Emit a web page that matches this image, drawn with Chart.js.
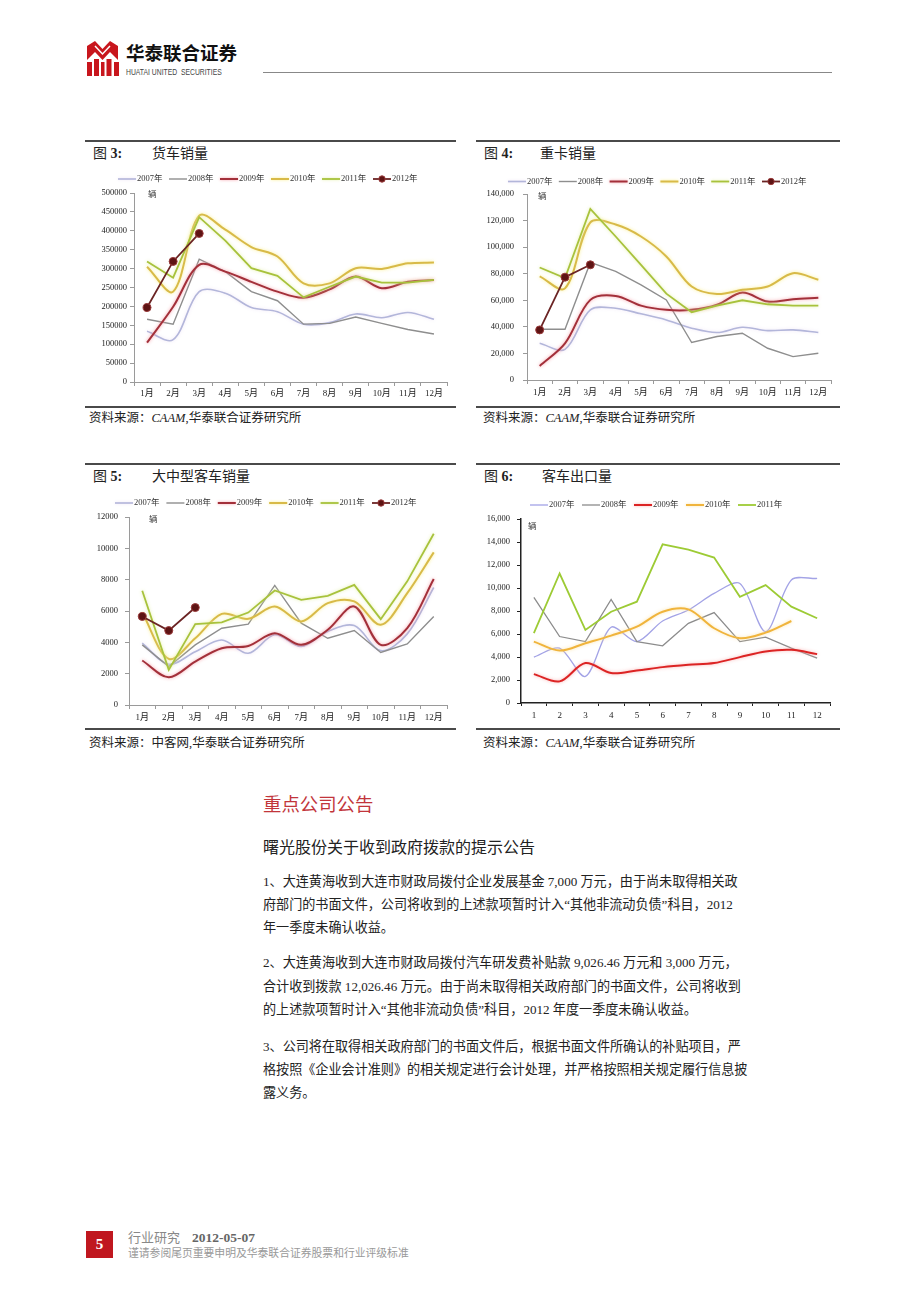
<!DOCTYPE html>
<html><head><meta charset="utf-8">
<script src="https://cdn.jsdelivr.net/npm/chart.js@4.4.1/dist/chart.umd.min.js"></script>
<style>
html,body{margin:0;padding:0;background:#fff;}
#page{position:relative;width:920px;height:1302px;overflow:hidden;background:#fff;font-family:'Liberation Serif','Noto Sans CJK SC',serif;color:#222;}
.abs{position:absolute;white-space:nowrap;}
canvas{position:absolute;}
.rule{position:absolute;background:#4a4a4a;}
.ttl{position:absolute;font-size:14px;line-height:16px;white-space:nowrap;color:#222;}
.src{position:absolute;font-size:12.5px;line-height:14px;white-space:nowrap;color:#222;}
.unit{position:absolute;font-size:8.5px;line-height:10px;font-family:'Noto Sans CJK SC';color:#333;}
.p{position:absolute;left:263px;font-size:13.1px;line-height:16px;white-space:nowrap;color:#222;}
</style></head>
<body><div id="page">

<!-- header -->
<svg class="abs" style="left:86px;top:40px" width="33" height="37" viewBox="0 0 33 37">
 <path d="M1 6 L9 1 L16.5 9 L24 1 L32 6 L32 20 L24 12 L16.5 20 L9 12 L1 20 Z" fill="#c8161d"/>
 <path d="M9 6 L16.5 14 L24 6" stroke="#fff" stroke-width="1.5" fill="none"/>
 <rect x="1" y="22" width="5" height="14" fill="#c8161d"/>
 <rect x="8" y="19" width="5" height="17" fill="#c8161d"/>
 <rect x="15" y="22" width="3.5" height="14" fill="#c8161d"/>
 <rect x="20.5" y="19" width="5" height="17" fill="#c8161d"/>
 <rect x="28" y="22" width="5" height="14" fill="#c8161d"/>
</svg>
<div class="abs" style="left:126px;top:42px;font-family:'Noto Sans CJK SC';font-weight:700;font-size:18.5px;line-height:21px;color:#111;">华泰联合证券</div>
<div class="abs" style="left:126px;top:67px;font-family:'Liberation Sans Narrow','Liberation Sans';font-size:8.5px;line-height:10px;color:#444;transform:scaleX(0.8);transform-origin:0 0;">HUATAI UNITED&nbsp; SECURITIES</div>
<div class="abs" style="left:263px;top:72px;width:569px;height:1px;background:#888;"></div>

<!-- Figure 3 -->
<div class="rule" style="left:85px;top:140px;width:371px;height:2px;"></div>
<div class="ttl" style="left:93px;top:146px;">图 <b>3:</b></div>
<div class="ttl" style="left:152px;top:146px;">货车销量</div>
<canvas id="c3" width="375" height="240" style="left:85px;top:165px;width:375px;height:240px;"></canvas>
<div class="unit" style="left:148px;top:188px;">辆</div>
<div class="rule" style="left:85px;top:406px;width:371px;height:2px;"></div>
<div class="src" style="left:89px;top:411px;">资料来源：<i>CAAM</i>,华泰联合证券研究所</div>

<!-- Figure 4 -->
<div class="rule" style="left:476px;top:140px;width:364px;height:2px;"></div>
<div class="ttl" style="left:484px;top:146px;">图 <b>4:</b></div>
<div class="ttl" style="left:540px;top:146px;">重卡销量</div>
<canvas id="c4" width="365" height="240" style="left:475px;top:165px;width:365px;height:240px;"></canvas>
<div class="unit" style="left:538px;top:190px;">辆</div>
<div class="rule" style="left:476px;top:406px;width:364px;height:2px;"></div>
<div class="src" style="left:483px;top:411px;">资料来源：<i>CAAM</i>,华泰联合证券研究所</div>

<!-- Figure 5 -->
<div class="rule" style="left:85px;top:463px;width:371px;height:2px;"></div>
<div class="ttl" style="left:93px;top:469px;">图 <b>5:</b></div>
<div class="ttl" style="left:152px;top:469px;">大中型客车销量</div>
<canvas id="c5" width="375" height="238" style="left:85px;top:490px;width:375px;height:238px;"></canvas>
<div class="unit" style="left:149px;top:513px;">辆</div>
<div class="rule" style="left:85px;top:728px;width:371px;height:2px;"></div>
<div class="src" style="left:89px;top:736px;">资料来源：中客网,华泰联合证券研究所</div>

<!-- Figure 6 -->
<div class="rule" style="left:476px;top:463px;width:364px;height:2px;"></div>
<div class="ttl" style="left:484px;top:469px;">图 <b>6:</b></div>
<div class="ttl" style="left:542px;top:469px;">客车出口量</div>
<canvas id="c6" width="365" height="238" style="left:475px;top:490px;width:365px;height:238px;"></canvas>
<div class="unit" style="left:528px;top:520px;">辆</div>
<div class="rule" style="left:476px;top:728px;width:364px;height:2px;"></div>
<div class="src" style="left:483px;top:736px;">资料来源：<i>CAAM</i>,华泰联合证券研究所</div>

<!-- text -->
<div class="abs" style="left:263px;top:792px;font-size:18.4px;line-height:22px;color:#c2353b;font-family:'Noto Sans CJK SC';">重点公司公告</div>
<div class="abs" style="left:263px;top:836px;font-size:16px;line-height:20px;color:#222;font-family:'Noto Sans CJK SC';">曙光股份关于收到政府拨款的提示公告</div>

<div class="p" style="top:874px;">1、大连黄海收到大连市财政局拨付企业发展基金 7,000 万元，由于尚未取得相关政</div>
<div class="p" style="top:897px;">府部门的书面文件，公司将收到的上述款项暂时计入“其他非流动负债”科目，2012</div>
<div class="p" style="top:920px;">年一季度未确认收益。</div>

<div class="p" style="top:955px;">2、大连黄海收到大连市财政局拨付汽车研发费补贴款 9,026.46 万元和 3,000 万元，</div>
<div class="p" style="top:979px;">合计收到拨款 12,026.46 万元。由于尚未取得相关政府部门的书面文件，公司将收到</div>
<div class="p" style="top:1002px;">的上述款项暂时计入“其他非流动负债”科目，2012 年度一季度未确认收益。</div>

<div class="p" style="top:1039px;">3、公司将在取得相关政府部门的书面文件后，根据书面文件所确认的补贴项目，严</div>
<div class="p" style="top:1062px;">格按照《企业会计准则》的相关规定进行会计处理，并严格按照相关规定履行信息披</div>
<div class="p" style="top:1085px;">露义务。</div>

<!-- footer -->
<div class="abs" style="left:86px;top:1231px;width:27px;height:27px;background:#c0171f;color:#fff;font-weight:700;font-size:15px;line-height:27px;text-align:center;">5</div>
<div class="abs" style="left:128px;top:1229px;font-size:13px;line-height:16px;color:#888;"><span style="font-family:'Noto Sans CJK SC';">行业研究</span><span style="margin-left:12px;font-weight:700;font-size:13.5px;color:#666;">2012-05-07</span></div>
<div class="abs" style="left:128px;top:1246px;font-size:10.8px;line-height:13px;color:#999;font-family:'Noto Sans CJK SC';">谨请参阅尾页重要申明及华泰联合证券股票和行业评级标准</div>

</div>
<script>
// ---------- data ----------
const monthLabels = ['1月','2月','3月','4月','5月','6月','7月','8月','9月','10月','11月','12月'];
const monthNumbers = ['1','2','3','4','5','6','7','8','9','10','11','12'];
const yearLabels = ['2007年','2008年','2009年','2010年','2011年','2012年'];

// 图3 货车销量（辆）
const truck2007 = [134000, 112000, 239000, 235000, 197000, 186000, 153000, 157000, 180000, 170000, 184000, 166000];
const truck2008 = [166000, 153000, 325000, 292000, 239000, 215000, 153000, 155000, 172000, 155000, 139000, 127000];
const truck2009 = [104000, 199000, 310000, 292000, 265000, 239000, 223000, 245000, 279000, 248000, 265000, 270000];
const truck2010 = [305000, 239000, 440000, 403000, 357000, 332000, 261000, 261000, 301000, 299000, 314000, 316000];
const truck2011 = [319000, 276000, 436000, 374000, 301000, 281000, 224000, 252000, 279000, 263000, 263000, 270000];
const truck2012 = [197000, 319000, 393000];

// 图4 重卡销量（辆）
const heavy2007 = [27600, 23100, 52800, 54000, 49800, 45200, 39000, 35700, 39700, 37200, 37700, 35700];
const heavy2008 = [38200, 38200, 88500, 81700, 71600, 60300, 28200, 32700, 35200, 23900, 17600, 20100];
const heavy2009 = [10600, 27600, 60300, 63300, 56000, 52800, 52800, 56600, 65800, 59000, 60800, 62000];
const heavy2010 = [78000, 69000, 118700, 117000, 108000, 93000, 70400, 64800, 67900, 70400, 80400, 75400];
const heavy2011 = [84700, 76700, 128700, 108000, 86700, 65000, 51000, 56000, 60000, 57000, 56000, 56000];
const heavy2012 = [37700, 77400, 86700];

// 图5 大中型客车销量（辆）
const bus2007 = [3950, 2600, 3400, 4150, 3300, 4480, 3730, 4690, 5070, 3470, 4540, 7500];
const bus2008 = [3840, 2450, 3840, 4900, 5160, 7630, 5220, 4260, 4750, 3350, 3900, 5650];
const bus2009 = [2840, 1770, 2770, 3620, 3770, 4580, 3840, 4800, 6290, 3840, 4900, 8040];
const bus2010 = [5900, 2940, 4260, 5820, 5500, 6290, 5330, 6500, 6610, 5120, 7140, 9740];
const bus2011 = [7290, 2240, 5160, 5270, 5900, 7310, 6710, 6970, 7670, 5480, 7890, 10930];
const bus2012 = [5650, 4750, 6220];

// 图6 客车出口量（辆）
const export2007 = [3990, 4770, 2310, 6590, 5340, 7130, 8090, 9530, 10400, 6210, 10700, 10830];
const export2008 = [9180, 5780, 5340, 9010, 5340, 4970, 6930, 7860, 5340, 5720, 4770, 3900];
const export2009 = [2510, 1880, 3470, 2600, 2830, 3120, 3320, 3470, 3990, 4480, 4620, 4250];
const export2010 = [5340, 4560, 5200, 5860, 6640, 7940, 8140, 6500, 5630, 6120, 7130, null];
const export2011 = [6070, 11260, 6350, 7940, 8810, 13800, 13340, 12650, 9240, 10250, 8380, 7370];

// ---------- styles ----------
const salesStyles = [
  {color:'#b3b6da', width:1.6, tension:0.33, glow:'rgba(235,225,245,0.9)', order:5},
  {color:'#8e8e8e', width:1.4, tension:0, order:4},
  {color:'#a3303a', width:2.0, tension:0.33, glow:'rgba(245,150,160,0.9)', order:3},
  {color:'#d8ba48', width:2.0, tension:0.33, glow:'rgba(250,238,130,0.9)', order:2},
  {color:'#a8c23c', width:1.8, tension:0, glow:'rgba(225,238,160,0.9)', order:1},
  {color:'#6b2424', width:1.8, tension:0, point:true, order:0}
];
const exportStyles = [
  {color:'#a3a3e6', width:1.3, tension:0.3, order:4},
  {color:'#8c8c8c', width:1.3, tension:0, order:3},
  {color:'#dc2424', width:2.0, tension:0.33, glow:'rgba(250,170,170,0.9)', order:2},
  {color:'#f0b43c', width:2.0, tension:0.33, glow:'rgba(252,225,160,0.9)', order:1},
  {color:'#9dcb35', width:1.8, tension:0, order:0}
];

const FONT_FAMILY = "'Liberation Serif','Noto Sans CJK SC'";

const glowPlugin = {
  id: 'glow',
  beforeDatasetDraw(chart, args) {
    const ds = chart.data.datasets[args.index];
    if (ds.glow) { chart.ctx.save(); chart.ctx.shadowColor = ds.glow; chart.ctx.shadowBlur = 3.5; }
  },
  afterDatasetDraw(chart, args) {
    const ds = chart.data.datasets[args.index];
    if (ds.glow) chart.ctx.restore();
  }
};

const miniLegend = {
  id: 'miniLegend',
  afterDraw(chart, args, opts) {
    const ctx = chart.ctx;
    ctx.save();
    ctx.font = '8.5px ' + FONT_FAMILY;
    ctx.textBaseline = 'middle';
    ctx.textAlign = 'left';
    chart.data.datasets.forEach((ds, i) => {
      const x = opts.x0 + i * opts.step, y = opts.y, len = opts.len;
      ctx.save();
      if (ds.glow) { ctx.shadowColor = ds.glow; ctx.shadowBlur = 3; }
      ctx.strokeStyle = ds.borderColor; ctx.lineWidth = ds.borderWidth;
      ctx.beginPath(); ctx.moveTo(x, y); ctx.lineTo(x + len, y); ctx.stroke();
      ctx.restore();
      if (ds.pointRadius > 0) {
        ctx.beginPath(); ctx.arc(x + len / 2, y, 3.2, 0, Math.PI * 2);
        ctx.fillStyle = ds.pointBackgroundColor; ctx.fill();
        ctx.strokeStyle = ds.pointBorderColor; ctx.lineWidth = 1; ctx.stroke();
      }
      ctx.fillStyle = '#333';
      ctx.fillText(ds.label, x + len + 1, y);
    });
    ctx.restore();
  }
};

function makeChart(id, labels, seriesData, styles, cfg) {
  const datasets = seriesData.map((d, i) => {
    const s = styles[i];
    return {
      label: yearLabels[i], data: d, borderColor: s.color, borderWidth: s.width,
      tension: s.tension, glow: s.glow || null, order: s.order, fill: false,
      pointRadius: s.point ? 4 : 0, pointHoverRadius: 0,
      pointBackgroundColor: '#5e1414', pointBorderColor: '#9a3a3a', pointBorderWidth: 1
    };
  });
  return new Chart(document.getElementById(id), {
    type: 'line',
    data: { labels: labels, datasets: datasets },
    options: {
      responsive: false, animation: false, devicePixelRatio: 1, events: [],
      layout: { padding: { top: cfg.pt, right: cfg.pr, bottom: 0, left: 0 } },
      plugins: { legend: { display: false }, tooltip: { enabled: false }, miniLegend: cfg.legend },
      scales: {
        x: {
          offset: true,
          grid: { display: true, drawOnChartArea: false, offset: true, tickLength: cfg.xTick, tickColor: cfg.axisColor, color: cfg.axisColor },
          border: { color: cfg.axisColor, width: cfg.axisWidth },
          ticks: { font: { family: FONT_FAMILY, size: 9 }, color: '#222', padding: cfg.xPad, maxRotation: 0, autoSkip: false },
          afterFit: s => { s.height = cfg.xH; }
        },
        y: {
          min: 0, max: cfg.max,
          grid: { display: true, drawOnChartArea: false, tickLength: 4, tickColor: cfg.axisColor, color: cfg.axisColor },
          border: { color: cfg.axisColor, width: cfg.axisWidth },
          ticks: { stepSize: cfg.step, font: { family: FONT_FAMILY, size: 8.5 }, color: '#222', padding: cfg.yPad,
                   callback: v => cfg.comma ? Number(v).toLocaleString('en-US') : String(v) },
          afterFit: s => { s.width = cfg.yW; }
        }
      }
    },
    plugins: [glowPlugin, miniLegend]
  });
}

makeChart('c3', monthLabels, [truck2007, truck2008, truck2009, truck2010, truck2011, truck2012], salesStyles,
  { pt: 28, pr: 13, xH: 23, yW: 49, max: 500000, step: 50000, comma: false, xPad: 2, yPad: 3, xTick: 4,
    axisColor: '#9a9a9a', axisWidth: 1, legend: { x0: 33, y: 14, step: 51, len: 18 } });

makeChart('c4', monthLabels, [heavy2007, heavy2008, heavy2009, heavy2010, heavy2011, heavy2012], salesStyles,
  { pt: 29, pr: 9, xH: 25, yW: 52, max: 140000, step: 20000, comma: true, xPad: 3, yPad: 9, xTick: 4,
    axisColor: '#9a9a9a', axisWidth: 1, legend: { x0: 33, y: 16.5, step: 50.8, len: 18 } });

makeChart('c5', monthLabels, [bus2007, bus2008, bus2009, bus2010, bus2011, bus2012], salesStyles,
  { pt: 27, pr: 13, xH: 23, yW: 44, max: 12000, step: 2000, comma: false, xPad: 3, yPad: 7, xTick: 4,
    axisColor: '#9a9a9a', axisWidth: 1, legend: { x0: 30, y: 13, step: 51.4, len: 18 } });

makeChart('c6', monthNumbers, [export2007, export2008, export2009, export2010, export2011], exportStyles,
  { pt: 29, pr: 10, xH: 25, yW: 46, max: 16000, step: 2000, comma: true, xPad: 4, yPad: 7, xTick: 3,
    axisColor: '#222', axisWidth: 1.5, legend: { x0: 55, y: 15, step: 52, len: 18 } });
</script>
</body></html>
